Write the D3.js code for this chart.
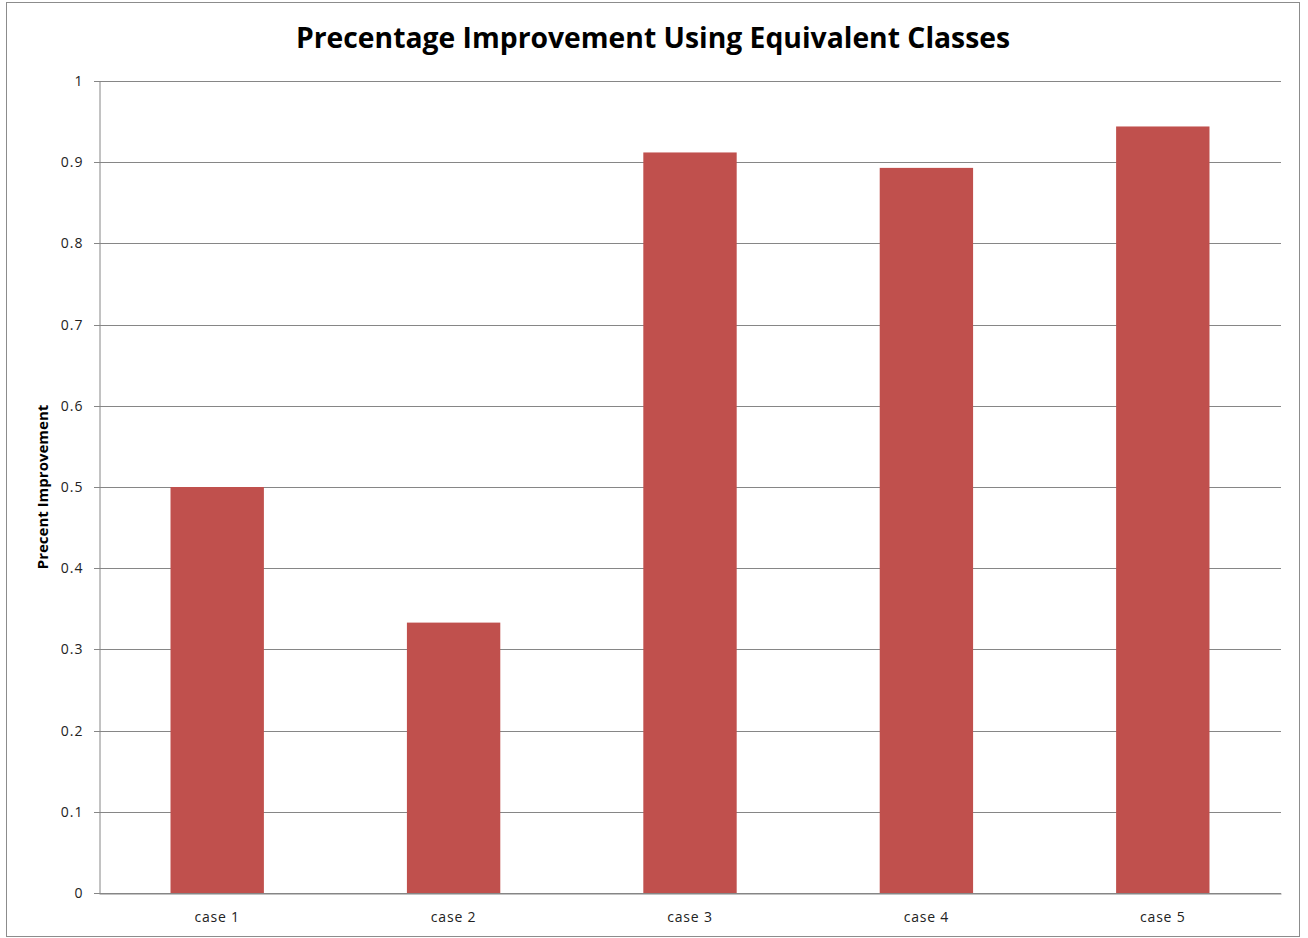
<!DOCTYPE html>
<html><head><meta charset="utf-8">
<script src="https://cdn.jsdelivr.net/npm/d3@7"></script>
<style>body{margin:0;background:#fff;} svg{display:block;}</style>
</head><body>
<svg id="c" width="1308" height="938"></svg>
<script>
const categories = ["case 1","case 2","case 3","case 4","case 5"];
const values = [0.5, 0.333, 0.912, 0.893, 0.944];
const yTicks = [0,0.1,0.2,0.3,0.4,0.5,0.6,0.7,0.8,0.9,1];
const title = "Precentage Improvement Using Equivalent Classes";
const yTitle = "Precent Improvement";

const svg = d3.select("#c");
const m = {left:99, right:1281, top:81, bottom:893};
svg.append("rect").attr("x",6.5).attr("y",2.5).attr("width",1293).attr("height",934)
  .attr("fill","#fff").attr("stroke","#8c8c8c").attr("stroke-width",1);

const x = d3.scaleBand().domain(categories).range([m.left,m.right]).paddingInner(0.605).paddingOuter(0.3025);
const y = d3.scaleLinear().domain([0,1]).range([m.bottom,m.top]);

// gridlines
svg.append("g").selectAll("line").data(yTicks).join("line")
  .attr("x1",m.left-5).attr("x2",m.right)
  .attr("y1",d=>Math.round(y(d))+0.5).attr("y2",d=>Math.round(y(d))+0.5)
  .attr("stroke","#868686").attr("stroke-width",1);

// y axis
const ya = d3.axisLeft(y).tickValues(yTicks).tickFormat(d=>d3.format("")(+d.toFixed(1))).tickSize(0).tickPadding(16);
const g = svg.append("g").attr("transform",`translate(${m.left+0.5},0)`).call(ya);
g.select(".domain").attr("stroke","#868686");
g.selectAll("text").attr("font-family","'Open Sans', sans-serif").attr("font-size",14).attr("letter-spacing",1).attr("fill","#222");

// bars
svg.append("g").selectAll("rect").data(values).join("rect")
  .attr("x",(d,i)=>x(categories[i])).attr("width",x.bandwidth())
  .attr("y",d=>y(d)).attr("height",d=>m.bottom-y(d))
  .attr("fill","#C0504D");

// x axis
const xa = d3.axisBottom(x).tickSize(0).tickPadding(19);
const gx = svg.append("g").attr("transform",`translate(0,${m.bottom+0.5})`).call(xa);
gx.select(".domain").attr("stroke","#868686");
gx.selectAll("text").attr("font-family","'Open Sans', sans-serif").attr("font-size",14).attr("letter-spacing",0.8).attr("fill","#222");

// title
svg.append("text").attr("x",653).attr("y",48).attr("text-anchor","middle")
  .attr("font-family","'Open Sans', sans-serif").attr("font-weight","bold").attr("font-size",28.3)
  .attr("fill","#000").text(title);

svg.append("text").attr("transform","translate(48,487) rotate(-90)").attr("text-anchor","middle")
  .attr("font-family","'Open Sans', sans-serif").attr("font-weight","bold").attr("font-size",15)
  .attr("fill","#000").text(yTitle);
</script>
</body></html>
